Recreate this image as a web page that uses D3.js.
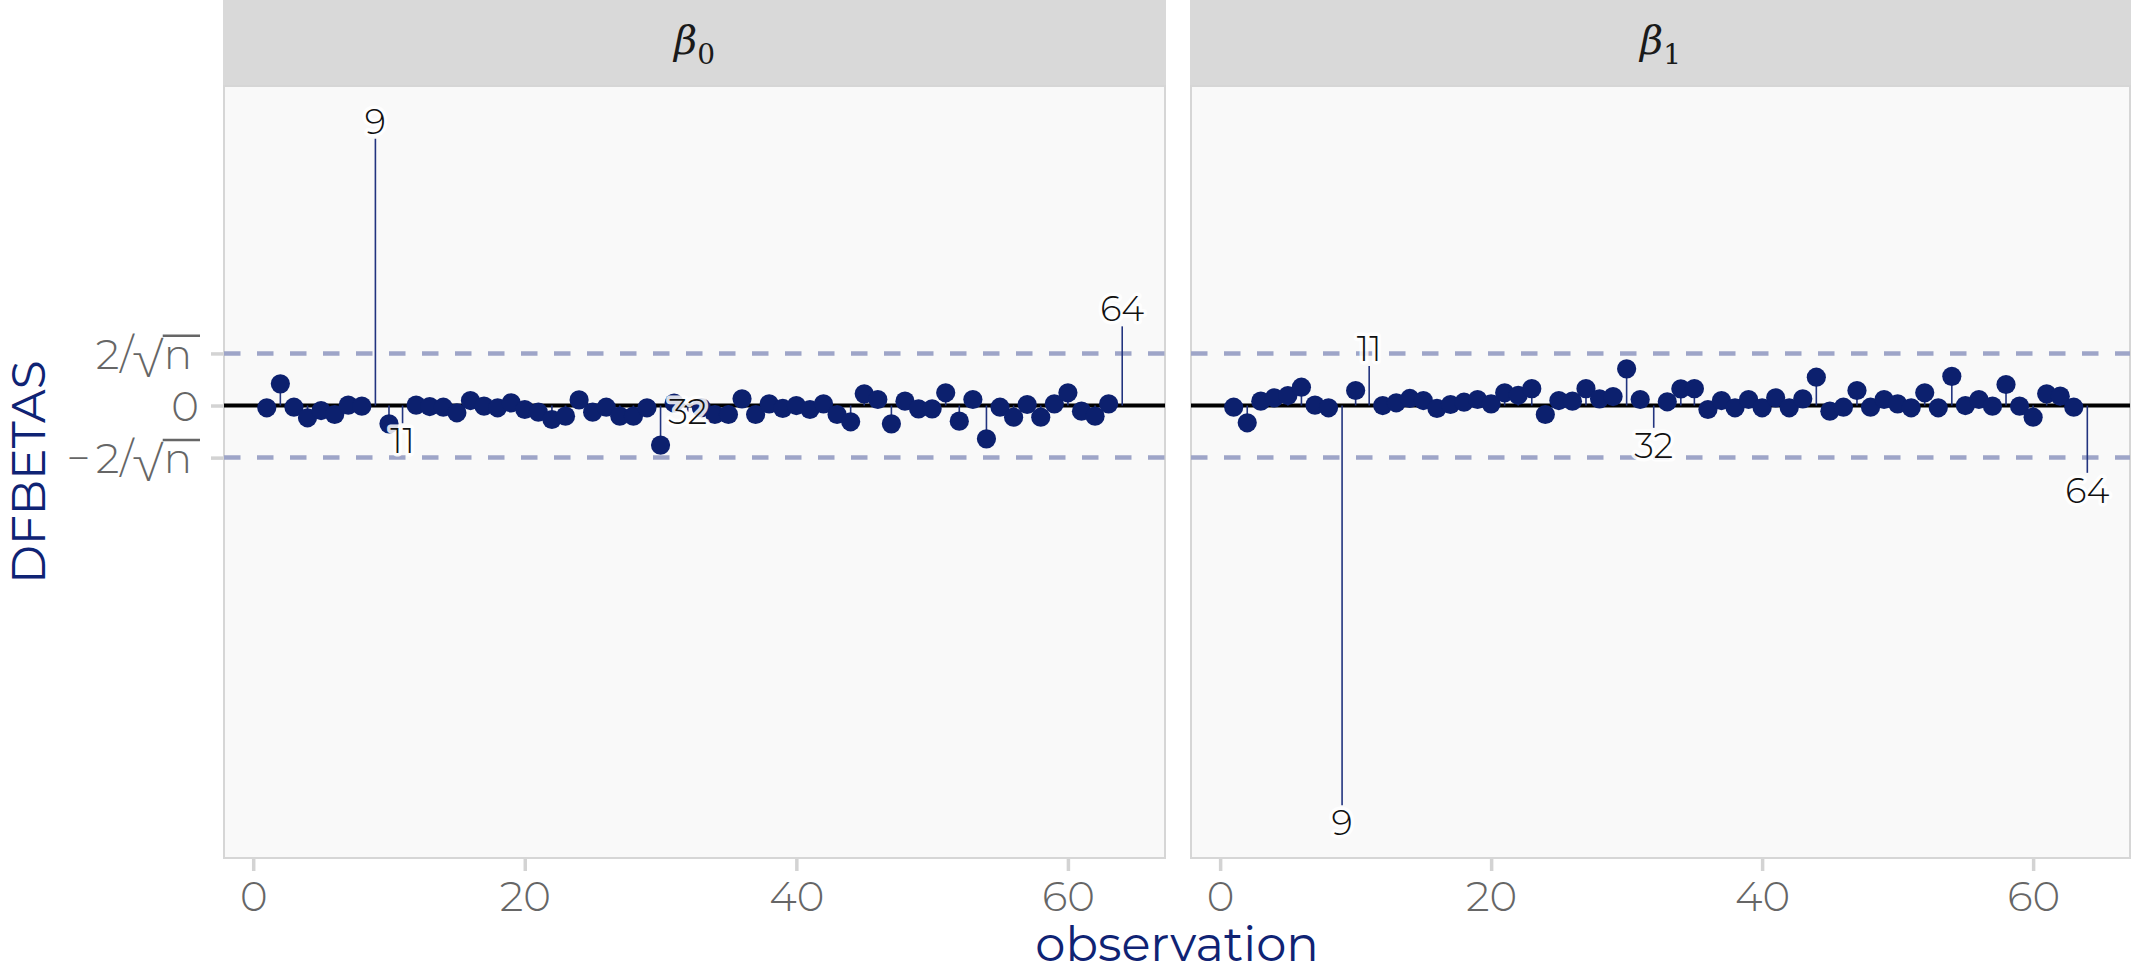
<!DOCTYPE html>
<html>
<head>
<meta charset="utf-8">
<script src="https://cdn.jsdelivr.net/npm/d3@7"></script>
<style>
  body { margin: 0; background: #fff; }
  svg text { font-family: Montserrat, Inter, "Open Sans", sans-serif; }
</style>
</head>
<body>
<svg id="chart" width="2133" height="969"></svg>
<script>
// Données : DFBETAS par observation (n = 64)
const n = 64;
const panelNames = ["β", "β"];
const panelSubs = ["0", "1"];

const dfbeta0 = [
  -0.011, 0.104, -0.008, -0.059, -0.024, -0.043, 0.002, -0.003, 1.28, -0.088,
  -0.085, 0.002, -0.005, -0.008, -0.035, 0.024, -0.003, -0.011, 0.013, -0.019,
  -0.032, -0.067, -0.051, 0.027, -0.032, -0.008, -0.051, -0.051, -0.011, -0.19,
  0.012, -0.03, -0.01, -0.043, -0.043, 0.032, -0.043, 0.008, -0.014, 0.0,
  -0.019, 0.008, -0.043, -0.078, 0.056, 0.029, -0.088, 0.021, -0.016, -0.016,
  0.061, -0.075, 0.029, -0.16, -0.008, -0.056, 0.005, -0.056, 0.008, 0.061,
  -0.027, -0.051, 0.008, 0.38
];
const dfbeta1 = [
  -0.008, -0.083, 0.021, 0.037, 0.048, 0.088, 0.002, -0.011, -1.918, 0.072,
  0.19, 0.0, 0.013, 0.034, 0.024, -0.014, 0.005, 0.016, 0.029, 0.008,
  0.061, 0.049, 0.081, -0.043, 0.024, 0.021, 0.081, 0.032, 0.043, 0.176,
  0.029, -0.107, 0.018, 0.080, 0.081, -0.019, 0.024, -0.011, 0.029, -0.011,
  0.037, -0.011, 0.032, 0.136, -0.027, -0.008, 0.072, -0.008, 0.029, 0.008,
  -0.011, 0.061, -0.011, 0.140, 0.0, 0.029, -0.003, 0.101, -0.003, -0.056,
  0.056, 0.045, -0.008, -0.323
];
const labelledObs = [9, 11, 32, 64];
const xTickValues = [0, 20, 40, 60];
const yTickLabels = ["2/√n", "0", "−2/√n"];

const series = [dfbeta0, dfbeta1];
const thr = 2 / Math.sqrt(n);
const yTickValues = [thr, 0, -thr];

// dimensions
const svg = d3.select("#chart");
const panelTop = 86, panelBottom = 858, stripTop = 0;
const panelX = [[224, 1165], [1191, 2130]];
const navy = "#0c206e";
const nudge = 0.085;

function labelPos(v) {
  if (Math.abs(v) < 0.05) return v;
  return v + Math.sign(v) * nudge;
}

// échelle y commune (5% d'expansion comme ggplot)
let allY = [];
series.forEach(s => {
  s.forEach((v, i) => {
    allY.push(v);
    if (labelledObs.includes(i + 1)) allY.push(labelPos(v));
  });
});
const yMin = d3.min(allY), yMax = d3.max(allY);
const yPad = (yMax - yMin) * 0.05;
const y = d3.scaleLinear().domain([yMin - yPad, yMax + yPad]).range([panelBottom, panelTop]);

series.forEach((vals, p) => {
  const [x0, x1] = panelX[p];
  const xPad = (n - 1) * 0.05;
  const x = d3.scaleLinear().domain([1 - xPad, n + xPad]).range([x0, x1]);
  const g = svg.append("g");

  // bande du titre
  g.append("rect").attr("x", x0 - 1).attr("y", stripTop).attr("width", x1 - x0 + 2)
    .attr("height", panelTop - stripTop).attr("fill", "#d9d9d9");
  const st = g.append("text").attr("x", (x0 + x1) / 2).attr("y", 54)
    .attr("text-anchor", "middle").attr("fill", "#1a1a1a")
    .style("font-family", "'DejaVu Serif', serif").style("font-size", "40px");
  st.append("tspan").style("font-style", "italic").text(panelNames[p]);
  st.append("tspan").attr("dy", 10).style("font-size", "28px").text(panelSubs[p]);

  // fond du panneau
  g.append("rect").attr("x", x0).attr("y", panelTop).attr("width", x1 - x0)
    .attr("height", panelBottom - panelTop).attr("fill", "#f9f9f9")
    .attr("stroke", "#d6d6d6").attr("stroke-width", 2);

  // seuils
  [thr, -thr].forEach(t => {
    g.append("line").attr("x1", x0).attr("x2", x1).attr("y1", y(t)).attr("y2", y(t))
      .attr("stroke", "#9ea5c8").attr("stroke-width", 4.5).attr("stroke-dasharray", "16.5 16.5");
  });
  g.append("line").attr("x1", x0).attr("x2", x1).attr("y1", y(0)).attr("y2", y(0))
    .attr("stroke", "#000").attr("stroke-width", 4);

  const data = vals.map((v, i) => ({ obs: i + 1, v: v, lab: labelledObs.includes(i + 1) }));

  // tiges
  g.selectAll("line.stem").data(data).enter().append("line")
    .attr("class", "stem")
    .attr("x1", d => x(d.obs)).attr("x2", d => x(d.obs))
    .attr("y1", y(0)).attr("y2", d => y(d.v))
    .attr("stroke", "#22347f").attr("stroke-width", 1.6);

  // points (pas pour les observations étiquetées)
  g.selectAll("circle").data(data.filter(d => !d.lab)).enter().append("circle")
    .attr("cx", d => x(d.obs)).attr("cy", d => y(d.v)).attr("r", 9.6)
    .attr("fill", navy);

  // étiquettes
  g.selectAll("text.lab").data(data.filter(d => d.lab)).enter().append("text")
    .attr("class", "lab")
    .attr("x", d => x(d.obs)).attr("y", d => y(labelPos(d.v)))
    .attr("text-anchor", "middle").attr("dominant-baseline", "central")
    .style("font-size", "35px").style("font-weight", 300)
    .attr("fill", "#111")
    .attr("stroke", "#ffffff").attr("stroke-width", 7).attr("stroke-opacity", 0.85)
    .attr("paint-order", "stroke").attr("stroke-linejoin", "round")
    .text(d => d.obs);

  // axe x
  const ax = g.append("g").attr("transform", `translate(0,${panelBottom + 1})`)
    .call(d3.axisBottom(x).tickValues(xTickValues).tickSize(12).tickPadding(10));
  ax.select(".domain").remove();
  ax.selectAll(".tick line").attr("stroke", "#d3d3d3").attr("stroke-width", 3.5);
  ax.selectAll(".tick text").attr("fill", "#666").style("font-size", "42px")
    .style("font-weight", 300).style("font-family", null);
});

// axe y
const yAxis = svg.append("g").attr("transform", `translate(${panelX[0][0] - 1},0)`)
  .call(d3.axisLeft(y).tickValues(yTickValues).tickSize(12).tickFormat(""));
yAxis.select(".domain").remove();
yAxis.selectAll(".tick line").attr("stroke", "#d3d3d3").attr("stroke-width", 3.5);

const fs = 42;
yTickValues.forEach((t, i) => {
  const lab = yTickLabels[i];
  const hasRoot = lab.endsWith("n");
  const tx = svg.append("text")
    .attr("x", hasRoot ? 192 : 199).attr("y", y(t) + 0.36 * fs)
    .attr("text-anchor", "end").attr("fill", "#666")
    .style("font-size", fs + "px").style("font-weight", 300);
  if (!hasRoot) { tx.text(lab); return; }
  const head = lab.slice(0, -1).replace("−", "−\u2009");
  tx.text(head + "n");
  const node = tx.node();
  const ext = node.getExtentOfChar(head.length);
  const base = y(t) + 0.36 * fs;
  svg.append("line")
    .attr("x1", ext.x - 1).attr("x2", ext.x + ext.width + 8)
    .attr("y1", base - 0.78 * fs).attr("y2", base - 0.78 * fs)
    .attr("stroke", "#666").attr("stroke-width", 2.5);
});

// titres des axes
svg.append("text")
  .attr("transform", `translate(45,${(panelTop + panelBottom) / 2}) rotate(-90)`)
  .attr("text-anchor", "middle").attr("fill", "#0f2374")
  .style("font-size", "47px").text("DFBETAS");

svg.append("text")
  .attr("x", (panelX[0][0] + panelX[1][1]) / 2).attr("y", 961)
  .attr("text-anchor", "middle").attr("fill", "#0f2374")
  .style("font-size", "48px").text("observation");
</script>
</body>
</html>
